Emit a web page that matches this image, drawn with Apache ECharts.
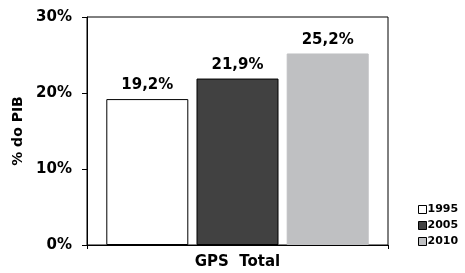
<!DOCTYPE html>
<html>
<head>
<meta charset="utf-8">
<script src="https://cdn.jsdelivr.net/npm/echarts@6/dist/echarts.min.js"></script>
<style>
  html, body { margin: 0; padding: 0; background: #fff; }
  #chart { width: 465px; height: 273px; }
</style>
</head>
<body>
<div id="chart"></div>
<script>
const categories = ['GPS  Total'];
const years = ['1995', '2005', '2010'];
const values = [19.2, 21.9, 25.2];
const yTicks = [0, 10, 20, 30];

const barColors = ['#ffffff', '#414141', '#bfc0c2'];
const barBorders = ['#000000', '#000000', '#bfc0c2'];
const font = 'DejaVu Sans';

const series = years.map((y, i) => ({
    name: y,
    type: 'bar',
    data: [values[i]],
    barWidth: 82,
    barGap: '10%',
    itemStyle: { color: barColors[i], borderColor: barBorders[i], borderWidth: 1 },
    label: {
        show: true,
        position: 'top',
        distance: 6,
        color: '#000',
        fontFamily: font,
        fontWeight: 'bold',
        fontSize: 15,
        formatter: p => p.value.toFixed(1).replace('.', ',') + '%'
    }
}));

const chart = echarts.init(document.getElementById('chart'), null, { renderer: 'canvas' });
chart.setOption({
    animation: false,
    backgroundColor: '#fff',
    grid: {
        left: 87, right: 77, top: 17, bottom: 28,
        show: true, borderColor: '#000', borderWidth: 1
    },
    legend: {
        orient: 'vertical',
        left: 413,
        top: 199,
        itemWidth: 8,
        itemHeight: 8,
        itemGap: 5,
        icon: 'rect',
        textStyle: { fontFamily: font, fontWeight: 'bold', fontSize: 11, color: '#000', padding: [0, 0, 0, -4] },
        data: years.map((y, i) => ({
            name: y,
            itemStyle: { color: barColors[i], borderColor: '#000', borderWidth: 1 }
        }))
    },
    xAxis: {
        type: 'category',
        data: categories,
        axisLine: { lineStyle: { color: '#000', width: 1 } },
        axisTick: { show: true, length: 4, lineStyle: { color: '#000' } },
        axisLabel: { margin: 10, color: '#000', fontFamily: font, fontWeight: 'bold', fontSize: 15 }
    },
    yAxis: {
        type: 'value',
        min: yTicks[0],
        max: yTicks[yTicks.length - 1],
        interval: 10,
        name: '% do PIB',
        nameLocation: 'middle',
        nameGap: 62,
        nameTextStyle: { color: '#000', fontFamily: font, fontWeight: 'bold', fontSize: 14 },
        splitLine: { show: false },
        axisLine: { show: true, lineStyle: { color: '#000', width: 1 } },
        axisTick: { show: true, length: 5, lineStyle: { color: '#000' } },
        axisLabel: { margin: 15, color: '#000', fontFamily: font, fontWeight: 'bold', fontSize: 15, formatter: '{value}%' }
    },
    series: series
});
</script>
</body>
</html>
